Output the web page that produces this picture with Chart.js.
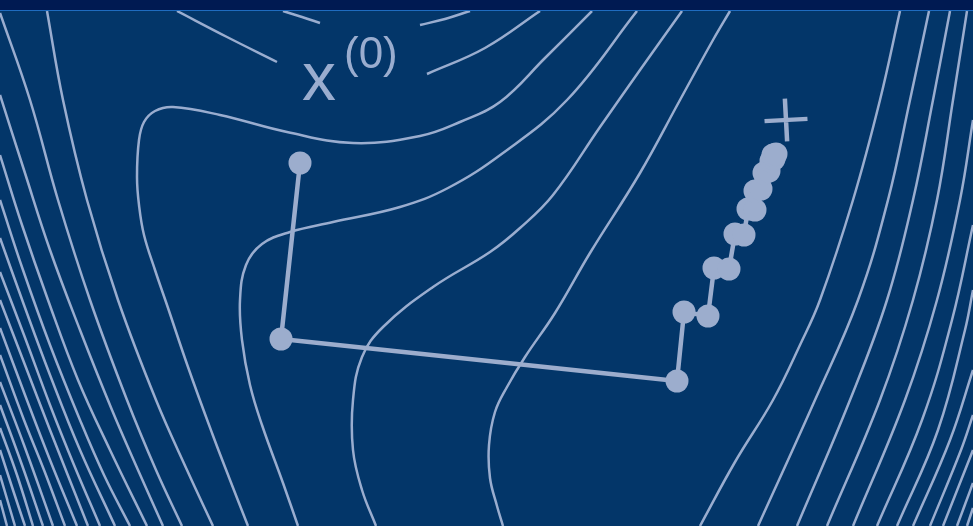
<!DOCTYPE html>
<html>
<head>
<meta charset="utf-8">
<script src="https://cdn.jsdelivr.net/npm/chart.js@4.4.1/dist/chart.umd.min.js"></script>
<style>
  body { margin: 0; background: #001a52; }
  #band { height: 10px; background: #001a52; border-bottom: 1px solid #1f6cc0; }
  #wrap { width: 973px; height: 515px; background: #033669; }
</style>
</head>
<body>
<div id="band"></div>
<div id="wrap"><canvas id="myChart" width="973" height="515"></canvas></div>
<script>
// contour lines, [x, y] with y counted downward
const valleyContours = [
    [[730,11],[713,40],[680,100],[640,173],[590,253],[555,313],[525,357],[507,387],[495,412],[489,445],[490,478],[497,506],[503,526]],
    [[700,526],[735,462],[773,400],[800,345],[820,300],[853,200],[880,100],[900,11]],
    [[682,11],[640,70],[600,127],[553,195],[520,228],[490,252],[433,287],[383,327],[362,357],[353,400],[353,450],[362,490],[376,526]],
    [[758,526],[815,400],[858,300],[888,200],[910,100],[929,11]],
    [[637,11],[567,100],[503,153],[448,188],[400,207],[333,222],[290,232],[262,244],[246,265],[240,300],[242,340],[250,385],[262,425],[283,483],[298,526]],
    [[797,526],[850,400],[887,300],[913,200],[933,100],[950,11]],
    [[592,11],[545,58],[500,102],[460,122],[420,136],[353,143],[287,132],[220,115],[173,107],[155,111],[144,122],[139,140],[137,177],[139,205],[144,235],[155,270],[167,305],[188,367],[212,433],[230,480],[248,526]],
    [[827,526],[880,400],[913,300],[937,200],[953,100],[967,11]]
];

// contours cut by the x(0) label
const labelContours = [
    [[177,11],[227,37],[277,62]],
    [[427,74],[485,48],[540,11]],
    [[283,11],[302,17],[320,23]],
    [[420,25],[445,19],[470,11]]
];

const leftContours = [
    [[47,11],[63,100],[87,200],[118,300],[156,400],[187,470],[213,526]],
    [[0,13],[30,100],[58,200],[90,300],[127,400],[156,470],[182,526]],
    [[0,95],[24,170],[50,250],[80,330],[112,410],[138,470],[163,526]],
    [[0,155],[22,225],[48,300],[78,380],[110,450],[147,526]],
    [[0,200],[23,270],[50,345],[80,420],[104,475],[130,526]],
    [[0,238],[24,305],[50,375],[80,450],[115,526]],
    [[0,272],[24,335],[50,405],[74,465],[100,526]],
    [[0,300],[25,365],[50,430],[88,526]],
    [[0,328],[25,395],[50,460],[77,526]],
    [[0,355],[24,420],[44,470],[65,526]],
    [[0,382],[24,445],[53,526]],
    [[0,405],[22,465],[43,526]],
    [[0,428],[17,475],[33,526]],
    [[0,450],[13,490],[25,526]],
    [[0,475],[15,526]],
    [[0,500],[7,526]]
];

const rightContours = [
    [[853,526],[905,400],[937,300],[960,200],[973,120]],
    [[877,526],[922,420],[952,320],[973,225]],
    [[897,526],[938,430],[965,330],[973,290]],
    [[913,526],[950,440],[973,370]],
    [[930,526],[961,450],[973,415]],
    [[943,526],[973,450]],
    [[957,526],[973,483]],
    [[967,526],[973,508]]
];

// iterates of the descent path
const pathX = [300, 281, 677, 684, 708, 714, 729, 735, 744, 748, 755, 755, 761, 764, 769, 771, 774, 773, 776];
const pathY = [163, 339, 381, 312, 316, 268, 269, 234, 235, 209, 210, 191, 189, 173, 171, 161, 159, 155, 154];

const minimum = [786, 120];
const startLabel = [302, 100];
const startSup = [344, 68];

const lineColor = '#9aadcf';
const pathColor = '#9cadcd';

function toPoints(arr) {
    return arr.map(p => ({ x: p[0], y: p[1] }));
}

const allContours = valleyContours.concat(labelContours, leftContours, rightContours);
const datasets = allContours.map(c => ({
    data: toPoints(c),
    showLine: true,
    pointRadius: 0,
    borderColor: lineColor,
    borderWidth: 2.5,
    tension: 0.4,
    order: 3
}));

datasets.push({
    data: pathX.map((x, i) => ({ x: x, y: pathY[i] })),
    showLine: true,
    borderColor: pathColor,
    borderWidth: 4.5,
    tension: 0,
    pointRadius: 11.5,
    pointBackgroundColor: pathColor,
    pointBorderWidth: 0,
    order: 1
});

datasets.push({
    data: [{ x: minimum[0], y: minimum[1] }],
    showLine: false,
    pointStyle: 'cross',
    pointRadius: 21.5,
    pointBorderWidth: 4.5,
    pointBorderColor: pathColor,
    pointRotation: -3,
    order: 0
});

const labelPlugin = {
    id: 'startLabel',
    afterDatasetsDraw(chart) {
        const ctx = chart.ctx;
        const xs = chart.scales.x, ys = chart.scales.y;
        ctx.save();
        ctx.fillStyle = lineColor;
        ctx.textBaseline = 'alphabetic';
        ctx.font = '68px "Liberation Sans", Arial, sans-serif';
        ctx.fillText('x', xs.getPixelForValue(startLabel[0]), ys.getPixelForValue(startLabel[1]));
        ctx.font = '44px "Liberation Sans", Arial, sans-serif';
        ctx.fillText('(0)', xs.getPixelForValue(startSup[0]), ys.getPixelForValue(startSup[1]));
        ctx.restore();
    }
};

var ctx = document.getElementById('myChart').getContext('2d');
var myChart = new Chart(ctx, {
    type: 'scatter',
    data: { datasets: datasets },
    plugins: [labelPlugin],
    options: {
        responsive: false,
        devicePixelRatio: 1,
        animation: false,
        layout: { padding: 0, autoPadding: false },
        plugins: { legend: { display: false }, tooltip: { enabled: false } },
        scales: {
            x: { type: 'linear', min: 0, max: 973, display: false },
            y: { type: 'linear', min: 11, max: 526, reverse: true, display: false }
        }
    }
});
</script>
</body>
</html>
